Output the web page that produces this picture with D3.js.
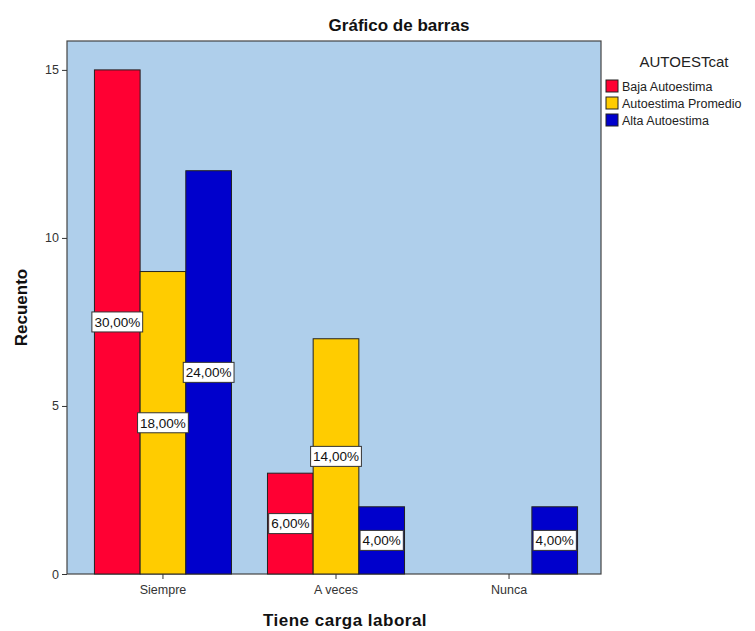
<!DOCTYPE html>
<html>
<head>
<meta charset="utf-8">
<script src="https://cdn.jsdelivr.net/npm/d3@7"></script>
<style>
  html, body { margin: 0; padding: 0; background: #fff; }
  svg { display: block; font-family: "Liberation Sans", Arial, sans-serif; }
</style>
</head>
<body>
<svg id="chart" width="755" height="631"></svg>
<script>
// Categories and counts per self-esteem level
const categories = ["Siempre", "A veces", "Nunca"];
const seriesNames = ["Baja Autoestima", "Autoestima Promedio", "Alta Autoestima"];
const seriesColors = ["#FF0033", "#FFCC00", "#0000CC"];
const bajaValues = [15, 3, 0];
const promedioValues = [9, 7, 0];
const altaValues = [12, 2, 2];
const yTicks = [0, 5, 10, 15];
const totalCount = 50;

const series = [bajaValues, promedioValues, altaValues];

const svg = d3.select("#chart");
const plot = { left: 67, right: 601, top: 41, bottom: 574 };

const x = d3.scaleBand()
  .domain(categories)
  .range([plot.left + 2, plot.right + 2])
  .paddingInner(0.208)
  .paddingOuter(0.147);

const xInner = d3.scaleBand()
  .domain(d3.range(seriesNames.length))
  .range([0, x.bandwidth()]);

const y = d3.scaleLinear()
  .domain([0, 15.86])
  .range([plot.bottom, plot.top]);

// Plot background
svg.append("rect")
  .attr("x", plot.left).attr("y", plot.top)
  .attr("width", plot.right - plot.left).attr("height", plot.bottom - plot.top)
  .attr("fill", "#AFCFEB")
  .attr("stroke", "#444").attr("stroke-width", 1.2);

const cells = [];
categories.forEach((c, ci) => {
  series.forEach((vals, si) => {
    if (vals[ci] > 0) cells.push({ c, si, v: vals[ci] });
  });
});

// Bars
svg.append("g").selectAll("rect")
  .data(cells)
  .join("rect")
  .attr("x", d => x(d.c) + xInner(d.si))
  .attr("y", d => y(d.v))
  .attr("width", xInner.bandwidth())
  .attr("height", d => y(0) - y(d.v))
  .attr("fill", d => seriesColors[d.si])
  .attr("stroke", "#222")
  .attr("stroke-width", 1);

// Percentage labels at bar mid-height
const fmt = v => (v / totalCount * 100).toFixed(2).replace(".", ",") + "%";
const labels = svg.append("g").selectAll("g")
  .data(cells)
  .join("g")
  .attr("transform", d => `translate(${x(d.c) + xInner(d.si) + xInner.bandwidth() / 2},${y(d.v / 2)})`);

labels.append("text")
  .attr("text-anchor", "middle")
  .attr("dy", "0.36em")
  .attr("font-size", 13.5)
  .attr("fill", "#111")
  .text(d => fmt(d.v));

labels.each(function() {
  const g = d3.select(this);
  const bb = g.select("text").node().getBBox();
  g.insert("rect", "text")
    .attr("x", bb.x - 2.5).attr("y", -10)
    .attr("width", bb.width + 5).attr("height", 20)
    .attr("fill", "#fff").attr("stroke", "#333").attr("stroke-width", 1);
});

// Axes
const yAxis = d3.axisLeft(y).tickValues(yTicks).tickSize(5).tickPadding(3);
svg.append("g")
  .attr("transform", `translate(${plot.left},0)`)
  .call(yAxis)
  .call(g => g.select(".domain").remove())
  .call(g => g.selectAll("line").attr("stroke", "#333"))
  .call(g => g.selectAll("text").attr("font-size", 12.5).attr("fill", "#333")
    .attr("font-family", "Liberation Sans, Arial, sans-serif"));

const xAxis = d3.axisBottom(x).tickSize(5).tickPadding(6);
svg.append("g")
  .attr("transform", `translate(0,${plot.bottom})`)
  .call(xAxis)
  .call(g => g.select(".domain").remove())
  .call(g => g.selectAll("line").attr("stroke", "#333"))
  .call(g => g.selectAll("text").attr("font-size", 12.5).attr("fill", "#333")
    .attr("font-family", "Liberation Sans, Arial, sans-serif"));

// Titles
svg.append("text")
  .attr("x", 399).attr("y", 31)
  .attr("text-anchor", "middle")
  .attr("font-size", 17).attr("font-weight", "bold").attr("fill", "#111")
  .text("Gráfico de barras");

svg.append("text")
  .attr("transform", `translate(27,${(plot.top + plot.bottom) / 2}) rotate(-90)`)
  .attr("text-anchor", "middle")
  .attr("font-size", 17).attr("font-weight", "bold").attr("fill", "#111")
  .text("Recuento");

svg.append("text")
  .attr("x", 345).attr("y", 626)
  .attr("text-anchor", "middle")
  .attr("font-size", 17).attr("font-weight", "bold").attr("fill", "#111")
  .attr("letter-spacing", 0.5)
  .text("Tiene carga laboral");

// Legend
const legend = svg.append("g").attr("transform", "translate(606,0)");
legend.append("text")
  .attr("x", 78).attr("y", 67)
  .attr("text-anchor", "middle")
  .attr("font-size", 15).attr("fill", "#222")
  .text("AUTOESTcat");

const items = legend.selectAll("g.item")
  .data(seriesNames)
  .join("g")
  .attr("class", "item")
  .attr("transform", (d, i) => `translate(0,${80 + i * 17})`);

items.append("rect")
  .attr("width", 12).attr("height", 12)
  .attr("fill", (d, i) => seriesColors[i])
  .attr("stroke", "#222").attr("stroke-width", 1);

items.append("text")
  .attr("x", 16).attr("y", 10.5)
  .attr("font-size", 12.5).attr("fill", "#222")
  .text(d => d);
</script>
</body>
</html>
